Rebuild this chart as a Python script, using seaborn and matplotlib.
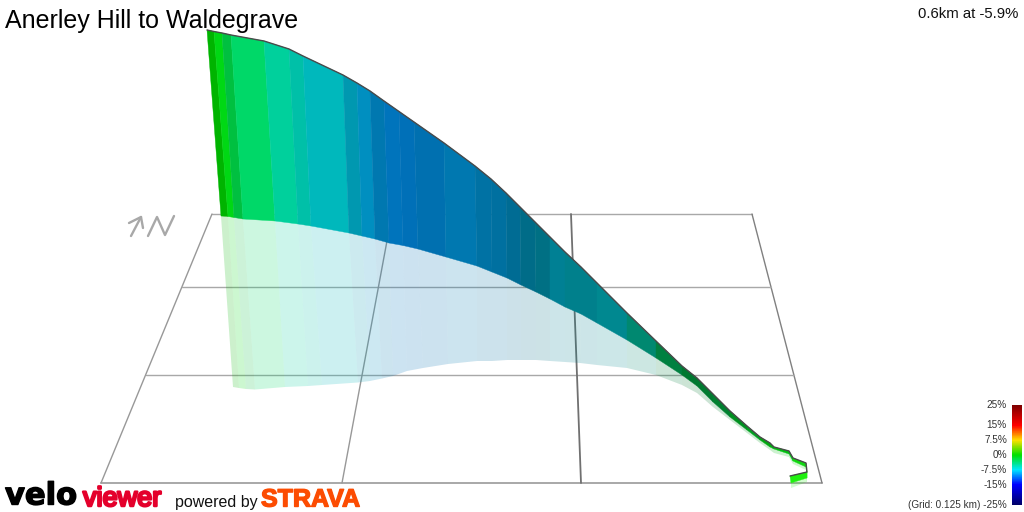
import numpy as np
import pandas as pd
import matplotlib
matplotlib.use("Agg")
import matplotlib.pyplot as plt
import matplotlib.patheffects as pe
from matplotlib.colors import LinearSegmentedColormap
import seaborn as sns

sns.set_style("white")
plt.rcParams['font.family'] = ['Liberation Sans', 'DejaVu Sans']

# Ridge (elevation) profile, road line and ground shadow
ridge_x = [207,214,222,231,264,289,303,343,357,370,384,399,414,444,475,491,506,520,535,550,565,581,597,627,656,682,697,713,730,747,760,770,774,789,793,806,807,790]
ridge_y = [30,31.5,33,35,41,49,56,75,83,91,101,111.5,122,143,166,179,193,207,222,237,252,267,283,313,341,366,378,394,411,426,437,443,447,451,458,463,472,476]
road_x = [221,228,234,243,275,298,311,349,362,375,389,403,418,446,477,492,507,521,536,550,565,581,597,627,656,682,697,713,730,747,760,770,774,789,793,806,807,791]
road_y = [216,216.5,217.5,219,221,224,226,233,236,239,243,245.5,249,257,266,272,278,285,292,299,307,314,323,340,358,375,386,402,417,430,440,447,449,454,461,467,478,483]
shadow_x = [233,239,246,255,285,308,322,358,370,382,393,407,423,448,477,492,507,521,536,550,565,580,597,627,656,682,697,713,730,747,760,770,774,789,793,806,807,791]
shadow_y = [387,388,389,389.5,387,386,385,382.5,381,378.5,376,371,368,364,361,361,360,360,360,361,362,363,365,368,375,385,393,407,420,433,443,450,453,457,464,470,482,488]

segment_colours = ["#00b400","#00d814","#00c040","#00d868","#00d09c","#00c0a8","#00b8bc","#0098b0","#008fc0","#0078b0",
                   "#0074bc","#0070b8","#0070b0","#0078b0","#0072a4","#0070a0","#006c94","#006c88","#007084","#008094",
                   "#00808c","#00808c","#008890","#008870","#008040","#007830","#007a30","#008030","#009020","#00a020",
                   "#00a810","#00b010","#00c010","#00c810","#10d810","#20e010","#20f010"]

# Ground grid (corners and rules)
grid_outer_x = [212,752,822,101,212]
grid_outer_y = [214,214,483,483,214]
rule_y = [287,375]
rule_left_x = [182,145.5]
rule_right_x = [771,794]
cross_x = [[392,342],[571,581]]
cross_y = [[214,483],[214,483]]

# Colour key
key_grades = [25,15,7.5,0,-7.5,-15,-25]
key_labels = ["25%","15%","7.5%","0%","-7.5%","-15%","(Grid: 0.125 km) -25%"]
key_stops = [(0.0,"#00006a"),(0.2,"#0000ff"),(0.35,"#00e8ff"),(0.5,"#00e000"),(0.65,"#ffe000"),(0.8,"#ff0000"),(1.0,"#800000")]

# North arrow / logo icon
arrow_shaft_x, arrow_shaft_y = [131,141], [236,217]
arrow_head_x, arrow_head_y = [129,141,143], [223,217,228]
zig_x, zig_y = [148,157,165,174], [236,217,235,216]

fig = plt.figure(figsize=(10.24,5.12), dpi=100, facecolor="white")
ax = fig.add_axes([0,0,1,1])
ax.set_xlim(0,1024); ax.set_ylim(512,0); ax.axis("off")

def line(xs, ys, color, lw, z):
    d = pd.DataFrame({"x":xs,"y":ys})
    sns.lineplot(data=d, x="x", y="y", sort=False, estimator=None, color=color,
                 linewidth=lw, ax=ax, zorder=z, legend=False, solid_capstyle="round", solid_joinstyle="round")

# grid
line(grid_outer_x[:2], grid_outer_y[:2], "#a8a8a8", 1.0, 1)
line(grid_outer_x[2:4], grid_outer_y[2:4], "#a8a8a8", 1.4, 1)
line(grid_outer_x[1:3], grid_outer_y[1:3], "#808080", 1.0, 1)
line(grid_outer_x[3:5], grid_outer_y[3:5], "#989898", 1.0, 1)
for y, lx, rx in zip(rule_y, rule_left_x, rule_right_x):
    line([lx,rx],[y,y],"#a8a8a8",1.0,1)
line(cross_x[0],cross_y[0],"#989898",1.0,1)
line(cross_x[1],cross_y[1],"#707070",1.3,1)

# shadow and wall
for i, c in enumerate(segment_colours):
    ax.fill([road_x[i],road_x[i+1],shadow_x[i+1],shadow_x[i]],
            [road_y[i],road_y[i+1],shadow_y[i+1],shadow_y[i]],
            color=c, alpha=0.2, lw=0, zorder=2)
for i, c in enumerate(segment_colours):
    ax.fill([ridge_x[i],ridge_x[i+1],road_x[i+1],road_x[i]],
            [ridge_y[i],ridge_y[i+1],road_y[i+1],road_y[i]],
            facecolor=c, edgecolor=c, lw=0.3, zorder=3)
line(ridge_x, ridge_y, "#4a4a4a", 1.0, 4)

# icon
line(arrow_shaft_x, arrow_shaft_y, "#a8a8a8", 1.7, 1)
line(arrow_head_x, arrow_head_y, "#a8a8a8", 1.7, 1)
line(zig_x, zig_y, "#a8a8a8", 1.7, 1)

# text
ax.text(5,28,"Anerley Hill to Waldegrave",fontsize=18,color="black",ha="left",va="baseline")
ax.text(1018,18,"0.6km at -5.9%",fontsize=10.7,color="#111111",ha="right",va="baseline")
ax.text(175,507.5,"powered by",fontsize=11.5,color="#111111",ha="left",va="baseline")
ax.text(261,506.5,"STRAVA",fontsize=18,fontweight="bold",color="#fc4c02",ha="left",va="baseline",
        path_effects=[pe.withStroke(linewidth=1.0, foreground="#fc4c02")])
ax.text(5,504.5,"velo",fontsize=22,fontweight="bold",color="black",ha="left",va="baseline",
        family=["DejaVu Sans"],
        path_effects=[pe.withStroke(linewidth=1.0, foreground="black")])
ax.text(83,506,"viewer",fontsize=19.5,color="#e4002b",ha="left",va="baseline",
        path_effects=[pe.withStroke(linewidth=1.8, foreground="#e4002b")])

# colour key
cmap = LinearSegmentedColormap.from_list("grade", key_stops)
ax_key = fig.add_axes([1012/1024, 1-505/512, 10/1024, 100/512])
ramp = np.linspace(25,-25,100).reshape(-1,1)
sns.heatmap(ramp, cmap=cmap, vmin=-25, vmax=25, cbar=False, xticklabels=False, yticklabels=False, ax=ax_key)
for g, lab in zip(key_grades, key_labels):
    ax_key.text(-0.5, (25-g)*2, lab, transform=ax_key.get_yaxis_transform(), ha="right", va="center",
                fontsize=7.2, color="#333333")

fig.savefig("out.png", dpi=100, facecolor="white")
